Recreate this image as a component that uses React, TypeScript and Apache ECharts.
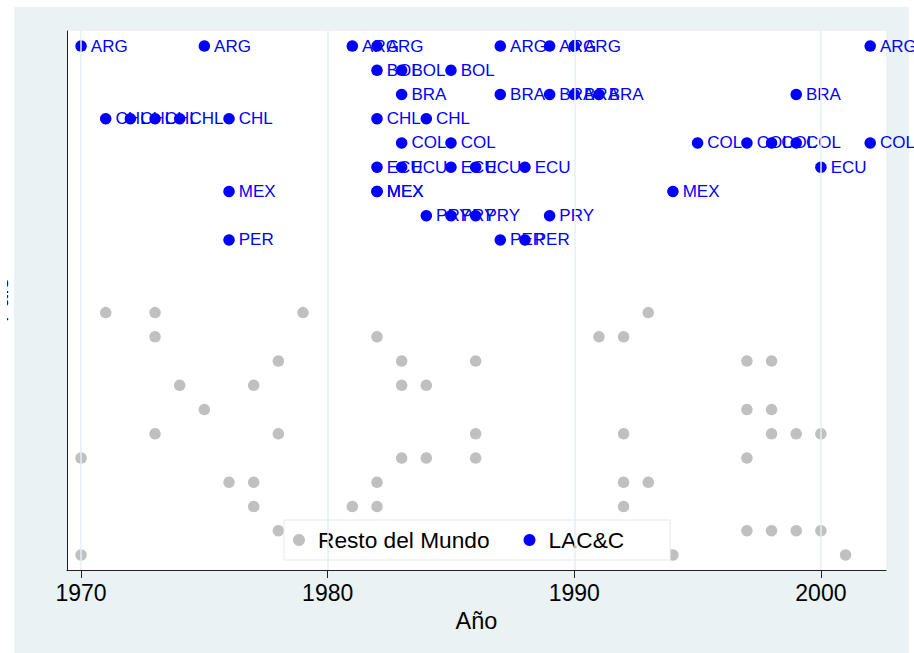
import React, { useEffect, useRef } from "react";
import * as echarts from "echarts";

const FONT = "'Liberation Sans', Arial, sans-serif";

const xTicks = [1970, 1980, 1990, 2000];
const xMin = 1969.43;
const xMax = 2002.64;

const lacCountries = ["ARG", "BOL", "BRA", "CHL", "COL", "ECU", "MEX", "PRY", "PER"];
const lacYears = [
  [1970, 1975, 1981, 1982, 1987, 1989, 1990, 2002],
  [1982, 1983, 1985],
  [1983, 1987, 1989, 1990, 1991, 1999],
  [1971, 1972, 1973, 1974, 1976, 1982, 1984],
  [1983, 1985, 1995, 1997, 1998, 1999, 2002],
  [1982, 1983, 1985, 1986, 1988, 2000],
  [1976, 1982, 1982, 1994],
  [1984, 1985, 1986, 1989],
  [1976, 1987, 1988],
];

const restoFirstRow = 11;
const restoYears = [
  [1971, 1973, 1979, 1993],
  [1973, 1982, 1991, 1992],
  [1978, 1983, 1986, 1997, 1998],
  [1974, 1977, 1983, 1984],
  [1975, 1997, 1998],
  [1973, 1978, 1986, 1992, 1998, 1999, 2000],
  [1970, 1983, 1984, 1986, 1997],
  [1976, 1977, 1982, 1992, 1993],
  [1977, 1981, 1982, 1992],
  [1978, 1997, 1998, 1999, 2000],
  [1970, 1994, 2001],
];

const yMin = -0.62;
const yMax = 21.62;

export default function App() {
  const ref = useRef<HTMLDivElement>(null);

  useEffect(() => {
    document.body.style.margin = "0";
    if (!ref.current) return;
    const chart = echarts.init(ref.current, undefined, { renderer: "svg" });

    const lacData: any[] = [];
    lacCountries.forEach((c, i) => {
      lacYears[i].forEach((y) => lacData.push({ value: [y, i], name: c }));
    });
    const restoData: any[] = [];
    restoYears.forEach((row, i) => {
      row.forEach((y) => restoData.push([y, restoFirstRow + i]));
    });

    chart.setOption({
      animation: false,
      backgroundColor: "#ffffff",
      textStyle: { fontFamily: FONT },
      graphic: [
        {
          type: "rect",
          z: -10,
          silent: true,
          shape: { x: 14, y: 7, width: 895, height: 646 },
          style: { fill: "#eaf2f3" },
        },
        {
          type: "text",
          x: 11.5,
          y: 300,
          rotation: Math.PI / 2,
          silent: true,
          style: {
            text: "País",
            fontSize: 22,
            fontFamily: FONT,
            fill: "#000",
            textAlign: "center",
            textVerticalAlign: "bottom",
          },
        },
        {
          type: "rect",
          z: 100,
          silent: true,
          shape: { x: 0, y: 0, width: 7, height: 653 },
          style: { fill: "#ffffff" },
        },
      ],
      grid: {
        left: 67,
        top: 31,
        width: 819,
        height: 539,
        show: true,
        backgroundColor: "#ffffff",
        borderWidth: 0,
        containLabel: false,
      },
      legend: {
        data: ["Resto del Mundo", "LAC&C"],
        left: 284,
        top: 520,
        orient: "horizontal",
        icon: "circle",
        itemWidth: 28,
        itemHeight: 12,
        itemGap: 34,
        padding: [8, 46, 8, 9],
        backgroundColor: "#ffffff",
        borderColor: "#e3ebee",
        borderWidth: 1,
        textStyle: { fontSize: 22.7, color: "#000", fontFamily: FONT, lineHeight: 24 },
      },
      xAxis: {
        type: "value",
        min: xMin,
        max: xMax,
        name: "Año",
        nameLocation: "middle",
        nameGap: 35,
        nameTextStyle: { fontSize: 23.5, color: "#000", fontFamily: FONT },
        axisLine: { show: true, onZero: false, lineStyle: { color: "#222", width: 1 } },
        axisTick: { show: true, length: 8, customValues: xTicks, lineStyle: { color: "#222" } },
        axisLabel: {
          show: true,
          customValues: xTicks,
          margin: 11,
          fontSize: 23,
          color: "#000",
          fontFamily: FONT,
          formatter: (v: number) => String(Math.round(v)),
        },
        splitLine: { show: false },
      },
      yAxis: {
        type: "value",
        inverse: true,
        min: yMin,
        max: yMax,
        axisLine: { show: true, onZero: false, lineStyle: { color: "#222", width: 1 } },
        axisTick: { show: false },
        axisLabel: { show: false },
        splitLine: { show: false },
      },
      series: [
        {
          type: "scatter",
          name: "grid",
          z: 1,
          silent: true,
          data: [],
          markLine: {
            silent: true,
            symbol: "none",
            label: { show: false },
            lineStyle: { color: "#e6eff2", width: 1.5, type: "solid" },
            data: xTicks.map((t) => ({ xAxis: t })),
          },
        },
        {
          type: "scatter",
          name: "Resto del Mundo",
          z: 2,
          symbol: "circle",
          symbolSize: 11.5,
          itemStyle: { color: "#c0c0c0", opacity: 1 },
          data: restoData,
        },
        {
          type: "scatter",
          name: "LAC&C",
          z: 3,
          symbol: "circle",
          symbolSize: 11.5,
          itemStyle: { color: "#0000ff", opacity: 1 },
          label: {
            show: true,
            position: "right",
            distance: 4,
            formatter: (p: any) => p.name,
            color: "#0000ff",
            fontSize: 17,
            fontFamily: FONT,
          },
          data: lacData,
        },
      ],
    });

    return () => chart.dispose();
  }, []);

  return <div ref={ref} style={{ width: 914, height: 653 }} />;
}
